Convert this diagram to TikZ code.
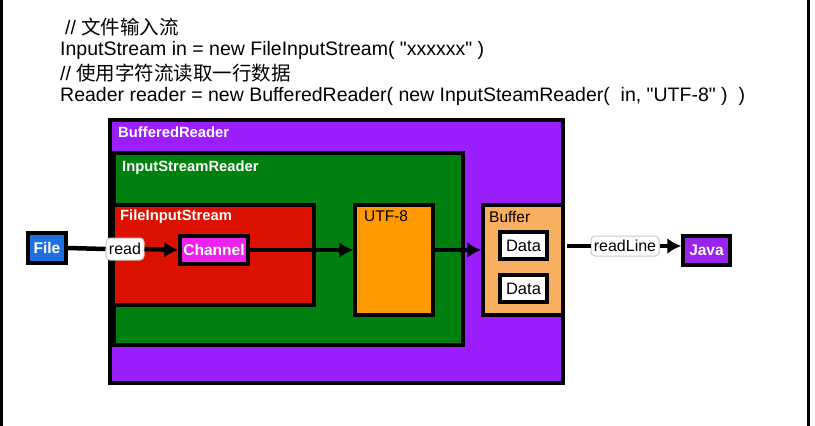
\documentclass[tikz,border=0pt]{standalone}
\usepackage{fontspec}
\setmainfont{Liberation Sans}[Ligatures=TeXOff]
\newfontfamily\cjk{Noto Sans CJK SC}
\usetikzlibrary{arrows.meta}
\definecolor{brpurple}{RGB}{155,30,255}
\definecolor{isrgreen}{RGB}{0,128,14}
\definecolor{fisred}{RGB}{221,17,0}
\definecolor{utforange}{RGB}{255,153,0}
\definecolor{bufbg}{RGB}{248,176,96}
\definecolor{chanmag}{RGB}{238,34,238}
\definecolor{fileblue}{RGB}{30,111,224}
\definecolor{javapurple}{RGB}{153,34,238}
\definecolor{lblgray}{RGB}{200,200,200}
\tikzset{
  box/.style={draw=black, line width=3.5pt, inner sep=0pt, rectangle},
  cont/.style={font=\fontsize{14.8}{17}\selectfont\bfseries, anchor=north west, inner sep=0pt},
  code/.style={font=\fontsize{19.5}{22}\selectfont, anchor=west, inner sep=0pt},
  small/.style={font=\fontsize{15.5}{17}\selectfont\bfseries, text=white},
  datatxt/.style={font=\fontsize{16.5}{18}\selectfont},
  edgelbl/.style={draw=lblgray, fill=white, rounded corners=4pt, line width=1pt, inner sep=0pt, font=\fontsize{16}{18}\selectfont},
  conn/.style={line width=4.5pt, -{Latex[length=14pt,width=16pt]}},
  plainconn/.style={line width=4.5pt},
}
\begin{document}
\begin{tikzpicture}[x=1pt,y=-1pt]
\useasboundingbox (0,0) rectangle (815,426);
\fill[white] (0,0) rectangle (815,426);
% frame lines
\coordinate (ftl) at (1.5,0);
\coordinate (fbl) at (1.5,426);
\coordinate (ftr) at (808.5,0);
\coordinate (fbr) at (808.5,426);
\draw[line width=3pt] (ftl) -- (fbl);
\draw[line width=3pt] (ftr) -- (fbr);
% code text
\node[code] (c1) at (65,27) {// {\cjk 文件输入流}};
\node[code] (c2) at (60,50) {InputStream in = new FileInputStream( "xxxxxx" )};
\node[code] (c3) at (60,73) {// {\cjk 使用字符流读取一行数据}};
\node[code] (c4) at (60,96) {Reader reader = new BufferedReader( new InputSteamReader(\ \ in, "UTF-8" )\ \ )};
% containers
\node[box, fill=brpurple, minimum width=453pt, minimum height=263pt] (br) at (336.5,251.5) {};
\node[cont, text=white] (brl) at (118,127) {BufferedReader};
\node[box, fill=isrgreen, minimum width=349pt, minimum height=192pt] (isr) at (288.5,249) {};
\node[cont, text=white] (isrl) at (122,161) {InputStreamReader};
\node[box, fill=fisred, minimum width=201pt, minimum height=100pt] (fis) at (213.5,255) {};
\node[cont, text=white] (fisl) at (120,210) {FileInputStream};
\node[box, fill=utforange, minimum width=78pt, minimum height=110pt] (utf) at (394,260) {};
\node[cont, font=\fontsize{15.5}{17}\selectfont] (utfl) at (364,210) {UTF-8};
\node[box, fill=bufbg, minimum width=80pt, minimum height=110pt] (buf) at (523,260) {};
\node[cont, font=\fontsize{15.5}{17}\selectfont] (bufl) at (489,211) {Buffer};
\node[box, fill=white, minimum width=47pt, minimum height=27pt, datatxt] (d1) at (523.5,245.5) {Data};
\node[box, fill=white, minimum width=47pt, minimum height=27pt, datatxt] (d2) at (523.5,288.5) {Data};
% small nodes
\node[box, fill=chanmag, small, minimum width=68pt, minimum height=28pt] (chan) at (214,250) {Channel};
\node[box, fill=fileblue, small, minimum width=38pt, minimum height=30pt] (file) at (47,248) {File};
\node[box, fill=javapurple, small, minimum width=47pt, minimum height=29pt] (java) at (706.5,250.5) {Java};
% connectors
\node[edgelbl, minimum width=38pt, minimum height=22pt] (rd) at (125,249) {read};
\draw[plainconn] (file.east) -- (rd.west);
\draw[conn] (rd.east) -- (chan.west);
\draw[conn] (chan.east) -- (chan.east -| utf.west);
\draw[conn] (utf.east |- chan.east) -- (buf.west |- chan.east);
\node[edgelbl, minimum width=68pt, minimum height=20pt] (rl) at (625,246) {readLine};
\coordinate (rs) at (567,246);
\draw[plainconn] (rs) -- (rl.west);
\draw[conn] (rl.east) -- (rl.east -| java.west);
\end{tikzpicture}
\end{document}
